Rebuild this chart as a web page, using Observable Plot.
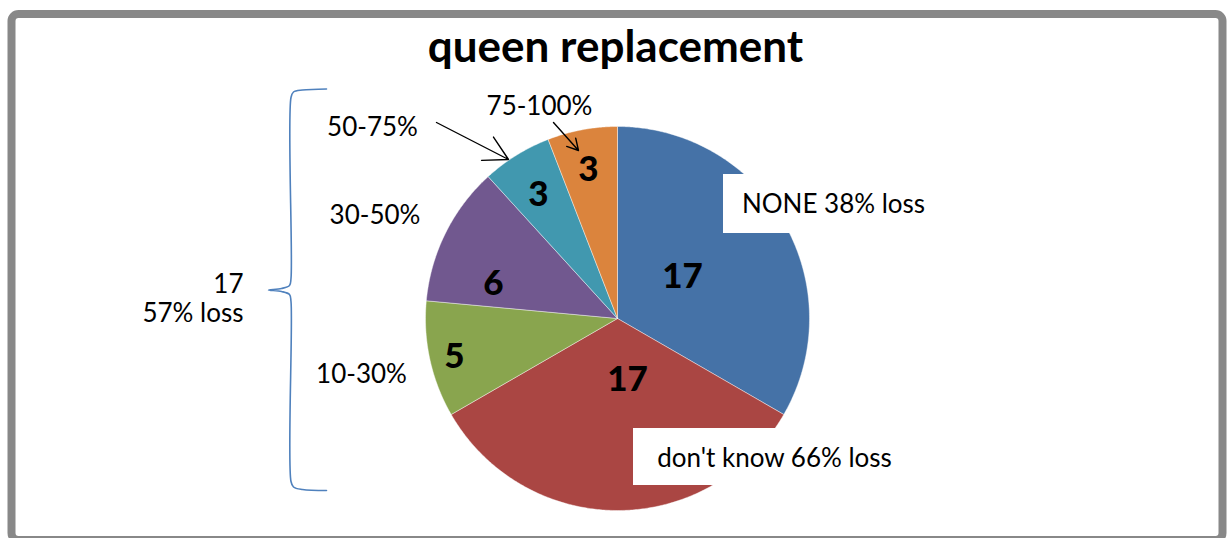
<!DOCTYPE html>
<html><head><meta charset="utf-8">
<script src="https://cdn.jsdelivr.net/npm/d3@7"></script>
<script src="https://cdn.jsdelivr.net/npm/@observablehq/plot@0.6"></script>
<style>html,body{margin:0;padding:0;background:#fff;overflow:hidden}</style>
</head><body><div id="chart"></div>
<script>
// ---- data ----
const categories = ["NONE", "don't know", "10-30%", "30-50%", "50-75%", "75-100%"];
const counts = [17, 17, 5, 6, 3, 3];
const categoryLabels = ["NONE 38% loss", "don't know 66% loss", "10-30%", "30-50%", "50-75%", "75-100%"];
const sliceColors = ["#4572A7", "#AA4643", "#89A54E", "#71588F", "#4198AF", "#DB843D"];
const titleText = "queen replacement";
const braceLines = ["17", "57% loss"];

// ---- layout (pixels) ----
const W = 1230, H = 538;
const pie = {cx: 617, cy: 318, r: 192};
const valueLabelPos = [[682, 287], [627, 390], [454, 367], [493, 294], [538, 205], [588, 180]];
const categoryLabelPos = [[833, 212], [774, 466], [361, 382], [374.5, 223], [372, 135], [539, 114]];
const labelBoxes = [{x1: 723, x2: 940, y1: 174, y2: 233}, {x1: 633, x2: 910, y1: 428, y2: 485}];
const arrows = [{x1: 436, y1: 122, x2: 508, y2: 159}, {x1: 553, y1: 122, x2: 578, y2: 150}];
const bracePts = [[326,88.5],[302,89.5],[293,91.5],[290.5,97],[290.5,278],[289,285],[281,288],[268,289.5],[281,291],[289,294],[290.5,301],[290.5,481],[293,486.5],[302,489],[326,490]];

// ---- pie geometry from the counts ----
const arcs = d3.pie().sort(null).value(d => d)(counts);
const slicePts = [];
arcs.forEach((a, i) => {
  const cat = categories[i];
  slicePts.push({cat, x: pie.cx, y: pie.cy});
  const steps = Math.max(2, Math.ceil((a.endAngle - a.startAngle) / (Math.PI / 360)));
  for (let k = 0; k <= steps; k++) {
    const t = a.startAngle + (a.endAngle - a.startAngle) * k / steps;
    slicePts.push({cat, x: pie.cx + pie.r * Math.sin(t), y: pie.cy - pie.r * Math.cos(t)});
  }
  slicePts.push({cat, x: pie.cx, y: pie.cy});
});

const valueLabels = categories.map((c, i) => ({cat: c, n: counts[i], x: valueLabelPos[i][0], y: valueLabelPos[i][1]}));
const catLabels = categoryLabels.map((t, i) => ({t, x: categoryLabelPos[i][0], y: categoryLabelPos[i][1]}));
const braceData = bracePts.map(([x, y]) => ({x, y}));
const braceText = braceLines.map((t, i) => ({t, x: 243, y: [292, 321][i]}));

const chart = Plot.plot({
  width: W, height: H,
  margin: 0,
  x: {domain: [0, W], range: [0, W], axis: null},
  y: {domain: [0, H], range: [0, H], axis: null},
  color: {domain: categories, range: sliceColors},
  style: {fontFamily: "Lato, 'Open Sans', sans-serif", background: "white", overflow: "hidden"},
  marks: [
    Plot.frame({stroke: "#888888", strokeWidth: 8, rx: 7, insetLeft: 11, insetTop: 13.5, insetRight: 8, insetBottom: -1.5}),
    Plot.line(slicePts, {x: "x", y: "y", z: "cat", fill: "cat", stroke: "white", strokeWidth: 0.6, strokeOpacity: 0.7}),
    Plot.rect(labelBoxes, {x1: "x1", x2: "x2", y1: "y1", y2: "y2", fill: "white"}),
    Plot.text(valueLabels, {x: "x", y: "y", text: d => String(d.n), fontWeight: 900, fontSize: 35, lineAnchor: "bottom", fill: "black"}),
    Plot.text(catLabels, {x: "x", y: "y", text: "t", fontSize: 26, lineAnchor: "bottom", fill: "black"}),
    Plot.arrow(arrows, {x1: "x1", y1: "y1", x2: "x2", y2: "y2", stroke: "black", strokeWidth: 1.4, headLength: 30, headAngle: 58}),
    Plot.line(braceData, {x: "x", y: "y", curve: "catmull-rom", stroke: "#4F81BD", strokeWidth: 1.6}),
    Plot.text(braceText, {x: "x", y: "y", text: "t", fontSize: 26, textAnchor: "end", lineAnchor: "bottom", fill: "black"}),
    Plot.text([titleText], {x: () => 615, y: () => 61, text: d => d, fontWeight: "bold", fontSize: 44, lineAnchor: "bottom", fill: "black"})
  ]
});
document.getElementById("chart").appendChild(chart);
</script>
</body></html>
